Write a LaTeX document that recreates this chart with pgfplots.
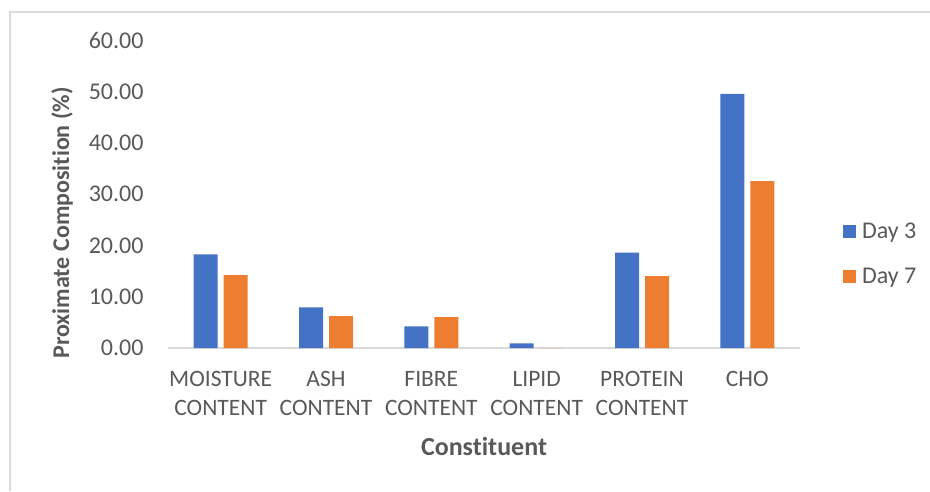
\documentclass[border=0pt]{standalone}
\usepackage{pgfplots}
\pgfplotsset{compat=1.18}
\usepackage{fontspec}
\setmainfont{Carlito}[Ligatures=NoCommon]
\definecolor{cblue}{HTML}{4472C4}
\definecolor{corange}{HTML}{ED7D31}
\definecolor{ctext}{HTML}{595959}
\definecolor{cline}{HTML}{D9D9D9}
\begin{document}
\begin{tikzpicture}[x=1pt,y=1pt]
\path[use as bounding box] (0,0) rectangle (930,491);
\draw[cline,line width=1.2pt] (10,0) -- (10,479) -- (930,479);
\begin{axis}[
  at={(168pt,143pt)}, anchor=south west,
  scale only axis, width=632pt, height=308pt,
  xmin=-0.5, xmax=5.5, ymin=0, ymax=60,
  ytick={0,10,...,60},
  xtick={0,1,2,3,4,5},
  xticklabels={MOISTURE\\CONTENT, ASH\\CONTENT, FIBRE\\CONTENT, LIPID\\CONTENT, PROTEIN\\CONTENT, CHO},
  axis x line*=bottom,
  x axis line style={cline, line width=1.5pt, -},
  y axis line style={draw=none},
  separate axis lines,
  major tick length=0pt,
  ytick style={draw=none}, xtick style={draw=none},
  /pgf/number format/.cd, fixed, fixed zerofill, precision=2, assume math mode=true,
  /pgfplots/.cd,
  yticklabel style={font=\fontsize{24}{28}\selectfont, text=ctext, xshift=-21pt},
  xticklabel style={font=\fontsize{23.5}{29}\selectfont, text=ctext, align=center, yshift=-20pt, anchor=north},
  xlabel={\textbf{Constituent}},
  xlabel style={font=\fontsize{26}{30}\selectfont, text=ctext, yshift=-14pt},
  ylabel={\textbf{Proximate Composition (\%)}},
  ylabel style={font=\fontsize{24}{28}\selectfont, text=ctext, at={(ticklabel cs:0.406)}, yshift=9pt},
  ybar, bar width=24pt,
  legend style={at={(1.063,0.305)}, anchor=west, draw=none, fill=none,
     font=\fontsize{24}{28}\selectfont, text=ctext, row sep=24pt,
     /tikz/every odd column/.append style={column sep=4pt}},
  legend cell align=left,
  legend image code/.code={\fill[#1] (0pt,-6.5pt) rectangle (13pt,6.5pt);},
]
\addplot[draw=none, fill=cblue, bar shift=-15pt] coordinates {(0,18.25) (1,7.93) (2,4.2) (3,0.9) (4,18.6) (5,49.5)};
\addplot[draw=none, fill=corange, bar shift=15pt] coordinates {(0,14.2) (1,6.23) (2,6.0) (3,0.0) (4,14.0) (5,32.5)};
\legend{Day 3, Day 7}
\end{axis}
\end{tikzpicture}
\end{document}
